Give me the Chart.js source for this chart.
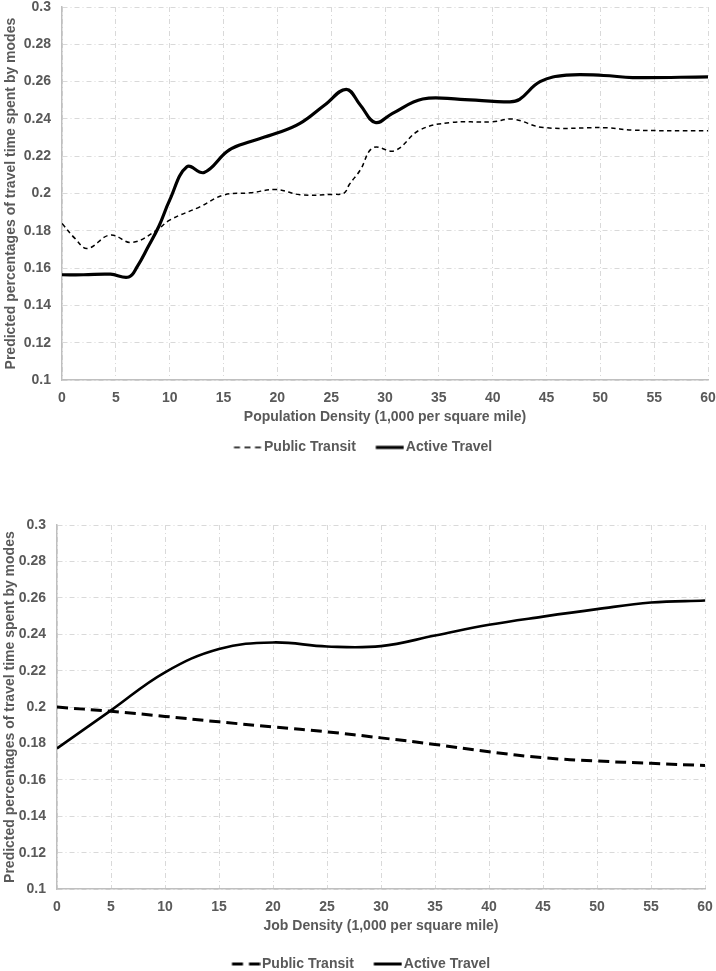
<!DOCTYPE html>
<html><head><meta charset="utf-8">
<script src="https://cdn.jsdelivr.net/npm/chart.js@4.4.1/dist/chart.umd.min.js"></script>
<style>
html,body{margin:0;padding:0;background:#fff;width:716px;height:971px;overflow:hidden}
.box{position:absolute;left:0;width:716px}
</style></head><body>
<div class="box" style="top:0;height:490px"><canvas id="popChart" width="716" height="490"></canvas></div>
<div class="box" style="top:490px;height:520px"><canvas id="jobChart" width="716" height="520"></canvas></div>
<script>
// ---- data ----
const xTickLabels = ['0','5','10','15','20','25','30','35','40','45','50','55','60'];
const yTickLabels = ['0.1','0.12','0.14','0.16','0.18','0.2','0.22','0.24','0.26','0.28','0.3'];

const popTransitX = [0, 1.2, 2.35, 4.46, 6.5, 8.8, 10, 12.8, 15, 17.5, 19.9, 22.1, 25.2, 26.2, 26.7, 27.7, 28.9, 30.9, 33.2, 36, 40, 41.9, 44.7, 50.6, 53, 60];
const popTransitY = [0.184, 0.176, 0.1706, 0.1778, 0.1738, 0.1804, 0.1858, 0.1929, 0.1992, 0.2004, 0.2022, 0.1994, 0.1996, 0.2003, 0.205, 0.2126, 0.2246, 0.223, 0.234, 0.238, 0.2385, 0.2399, 0.2354, 0.2353, 0.234, 0.2337];

const popActiveX = [0, 2, 4.5, 6.2, 7, 8, 9, 10, 11.6, 13.2, 15.3, 16.5, 19.9, 22.1, 24.4, 26.4, 27.7, 29.1, 30.7, 33.5, 37, 41.6, 42.5, 44.4, 46.9, 50.3, 53, 60];
const popActiveY = [0.1565, 0.1565, 0.1568, 0.1553, 0.161, 0.1715, 0.1825, 0.1965, 0.2144, 0.2113, 0.2224, 0.226, 0.2323, 0.2376, 0.2475, 0.2559, 0.2475, 0.2381, 0.243, 0.2507, 0.2505, 0.2492, 0.2505, 0.26, 0.2635, 0.2633, 0.2622, 0.2626];

const jobX = [0, 5, 10, 15, 20, 25, 30, 35, 40, 45, 50, 55, 60];
const jobTransitY = [0.2, 0.1977, 0.1949, 0.1919, 0.1891, 0.1864, 0.1831, 0.1795, 0.1755, 0.1722, 0.1704, 0.1691, 0.1679];
const jobActiveY = [0.1773, 0.1982, 0.2191, 0.2319, 0.2355, 0.2333, 0.2335, 0.2393, 0.2452, 0.2497, 0.2538, 0.2574, 0.2585];

const seriesNames = ['Public Transit', 'Active Travel'];
const yTitle = 'Predicted percentages of travel time spent by modes';
const popXTitle = 'Population Density (1,000 per square mile)';
const jobXTitle = 'Job Density (1,000 per square mile)';

// ---- styling ----
const TXT = '#595959';
const GRID = '#d9d9d9';
const AXIS = '#bfbfbf';
const FONT = "'Liberation Sans', Arial, sans-serif";

function pts(xs, ys) { return xs.map((x, i) => ({x: x, y: ys[i]})); }

function lineSample(lw, dash) {
  const c = document.createElement('canvas');
  c.width = 34; c.height = Math.ceil(lw) + 4;
  const g = c.getContext('2d');
  g.strokeStyle = '#000'; g.lineWidth = lw; g.setLineDash(dash);
  g.beginPath(); g.moveTo(5.5, c.height / 2); g.lineTo(33.5, c.height / 2); g.stroke();
  return c;
}

function legendPlacer(targetX, targetY) {
  return {
    id: 'legendPlacer',
    afterLayout(chart) {
      const lg = chart.legend;
      if (!lg || !lg.lineWidths) return;
      const pad = lg.options.labels.padding;
      const start = (lg.left + pad + lg.right - lg.lineWidths[0]) / 2;
      const dx = targetX - start;
      lg.left += dx; lg.right += dx;
      const cur = lg.top + pad + 7;
      const dy = targetY - cur;
      lg.top += dy; lg.bottom += dy;
    }
  };
}

function makeChart(id, cfg) {
  const samples = cfg.samples;
  return new Chart(document.getElementById(id), {
    type: 'line',
    data: {
      datasets: [
        {label: seriesNames[0], data: cfg.transit, borderColor: '#000', borderWidth: cfg.tw, borderDash: cfg.tdash,
         pointRadius: 0, fill: false, tension: 0.4},
        {label: seriesNames[1], data: cfg.active, borderColor: '#000', borderWidth: cfg.aw,
         pointRadius: 0, fill: false, tension: 0.4}
      ]
    },
    options: {
      responsive: false, animation: false, devicePixelRatio: 1,
      layout: {padding: {top: cfg.padTop, right: cfg.padRight, bottom: cfg.padBottom, left: 0}},
      plugins: {
        tooltip: {enabled: false},
        legend: {
          position: 'bottom',
          labels: {
            usePointStyle: true, pointStyleWidth: 23, padding: 20, color: TXT,
            font: {family: FONT, size: 14, weight: 'bold'},
            generateLabels: (chart) => chart.data.datasets.map((ds, i) => ({
              text: ds.label, pointStyle: samples[i], fontColor: TXT, lineWidth: 0,
              strokeStyle: '#000', fillStyle: '#000', hidden: false, datasetIndex: i
            }))
          }
        }
      },
      scales: {
        x: {
          type: 'linear', min: 0, max: 60,
          ticks: {stepSize: 5, autoSkip: false, maxRotation: 0, padding: 11, color: TXT,
                  font: {family: FONT, size: 14, weight: 'bold', lineHeight: 1},
                  callback: (v) => xTickLabels[Math.round(v / 5)]},
          grid: {color: GRID, drawTicks: false, lineWidth: 1},
          border: {color: AXIS, width: 1.5, dash: [5, 3, 1, 3]},
          title: {display: true, text: cfg.xTitle, color: TXT, padding: {top: -7, bottom: 4},
                  font: {family: FONT, size: 14, weight: 'bold'}},
          afterFit: (s) => { s.paddingLeft = 0; s.paddingRight = 0; }
        },
        y: {
          min: 0.1, max: 0.3,
          ticks: {stepSize: 0.02, padding: 11, color: TXT,
                  font: {family: FONT, size: 14, weight: 'bold', lineHeight: 1},
                  callback: (v) => yTickLabels[Math.round((v - 0.1) / 0.02)]},
          grid: {color: GRID, drawTicks: false, lineWidth: 1},
          border: {color: AXIS, width: 1.5, dash: [5, 3, 1, 3]},
          title: {display: true, text: yTitle, color: TXT, padding: {top: cfg.ytPad, bottom: 0},
                  font: {family: FONT, size: 14, weight: 'bold'}},
          afterFit: (s) => { s.width = cfg.yw; s.paddingTop = 0; s.paddingBottom = 0; }
        }
      }
    },
    plugins: [legendPlacer(cfg.legX, cfg.legY)]
  });
}

makeChart('popChart', {
  transit: pts(popTransitX, popTransitY), active: pts(popActiveX, popActiveY),
  tw: 1.5, tdash: [4.5, 3.5], aw: 3.2,
  samples: [lineSample(1.5, [6, 4.5]), lineSample(3.2, [])],
  padTop: 7, padRight: 8, padBottom: 16, yw: 62, ytPad: 3, xTitle: popXTitle, legX: 234, legY: 447.4
});
makeChart('jobChart', {
  transit: pts(jobX, jobTransitY), active: pts(jobX, jobActiveY),
  tw: 3, tdash: [11, 6], aw: 2.6,
  samples: [lineSample(3, [11, 6]), lineSample(3, [])],
  padTop: 35, padRight: 11, padBottom: 27, yw: 57, ytPad: 2, xTitle: jobXTitle, legX: 232, legY: 964 - 490
});
</script>
</body></html>
